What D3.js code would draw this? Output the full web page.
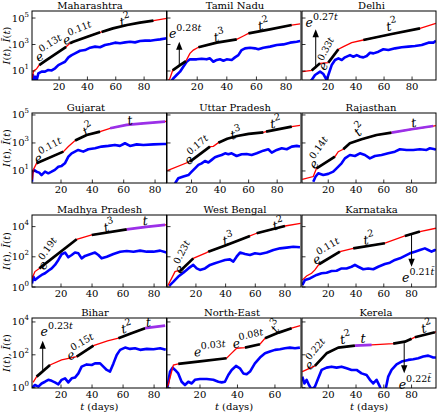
<!DOCTYPE html>
<html><head><meta charset="utf-8">
<script src="https://cdn.jsdelivr.net/npm/d3@7"></script>
<style>body{margin:0;background:#fff} svg{display:block} text{font-family:"DejaVu Serif",serif;fill:#000}</style>
</head><body><svg id="c" width="440" height="414"></svg>
<script>
// ---------------- data ----------------
const titles = ["Maharashtra","Tamil Nadu","Delhi","Gujarat","Uttar Pradesh","Rajasthan","Madhya Pradesh","West Bengal","Karnataka","Bihar","North-East","Kerela"];

const mhDays=[1,2,4,6,10,15,20,25,27.7,30,35,40,45,49,50,58,68,77,86.6,96];
const mhI=[2.8,10,14,28,56,129,295,676,1230,1600,2500,3900,6000,8300,8900,16600,29500,44700,63000,93000];
const mhBarDays=[1.2,1.6,2.3,3.3,4.2,5.4,7.7,10.1,12.4,14.8,17.2,19.5,21.9,24.2,26.6,28.9,31.3,34.8,38.3,41.9,45.4,48.9,52.4,56,59.5,63,66.6,70.1,73.6,77.1,80.7,84.2,87.7,91.3,96];
const mhIbar=[1.2,5,1.6,3.7,2.1,6.6,8.9,8.9,12,11,16,28,38,50,107,158,214,339,380,575,692,617,912,1100,1380,1230,1450,1620,1450,1820,1950,1950,2190,2450,2950];

const tnDays=[0,1.6,3.4,7.9,12.4,15.1,17.4,20.8,33.2,46.7,51.2,54.6,69.1,83.8,89.5];
const tnI=[1.6,2.8,11,25,56,214,380,617,1380,2450,4370,6900,13800,29500,35500];
const tnBarDays=[1.6,3.9,6.1,8.4,10.6,12.9,15.1,17.4,19.6,23,26.4,28.6,30.9,33.2,35.4,37.7,39.9,43.3,45.5,47.8,50,52.3,55.7,59,61.3,64.7,69.2,73.7,78.2,82.7,87.2,89.5];
const tnIbar=[1.2,2.8,5,8.9,21,50,76,76,76,85,76,91,50,68,76,60,76,68,107,158,380,513,575,513,437,575,692,912,1020,1380,1620,1820];

const dlDays=[1.7,8.3,14.3,20.2,27.4,31,36.9,45.2,65.5,85.7,97];
const dlI=[8.9,11,38,43,437,692,1380,2190,6200,16600,40000];
const dlBarDays=[6,8.3,10.7,14.3,16.7,19,20.2,22.6,25,27.4,29.8,32.1,35.7,38.1,40.5,42.9,45.2,47.6,50,52.4,56,59.5,63.1,67.9,72.6,77.4,82.1,86.9,91.7,95.2,97];
const dlIbar=[1.2,2.1,5,8.9,5.9,2.1,5,28,68,91,68,107,158,120,158,120,107,135,240,214,288,437,380,513,617,692,776,912,1380,1380,1950];

const gjDays=[1.7,2.3,4.4,21.5,24.7,29,36.4,44.9,51.3,61.9,72.5,86.4,87.3];
const gjI=[2.3,12,35,240,550,1480,3700,6500,11200,19500,25100,33100,37000];
const gjBarDays=[1.5,1.7,2.7,4.4,6.1,7.6,9.8,11.9,14,16.1,18.3,20.4,22.5,24.7,26.8,28.9,31,34.2,37.4,41.7,45.9,50.2,54.4,57.6,60.8,64,68.3,72.5,78.9,85.3,87.3];
const gjIbar=[1.7,6.8,12,8.9,7.6,5.1,8.9,6.8,8.9,12,20,23,35,105,182,240,316,240,355,417,550,617,724,617,955,617,794,724,794,851,851];

const upDays=[3,18.9,32.9,35.3,38.8,45,52,60,70.3,72.2,90.2,96];
const upI=[10.5,47,550,575,1050,2000,3160,4470,5750,6460,14800,18200];
const upBarDays=[8.4,10.7,14.3,17.8,20.1,22.4,24.8,27.1,29.4,31.8,34.1,36.4,38.8,41.1,43.5,45.8,48.1,51.6,55.1,58.6,62.1,65.7,70.3,73.8,76.2,79.7,83.2,86.7,90.2,93.7,96];
const upIbar=[1.3,3,4,5.1,8.9,15.5,27,35,51,40,62,95,117,138,182,155,182,117,155,162,138,182,282,355,204,316,417,355,550,617,550];

const rjDays=[1.3,9.2,11.6,24.8,27.2,30.8,35.6,44,54.8,65.6,80,95.6,97.5];
const rjI=[2.5,4,15.5,105,240,355,955,1820,3700,5500,9550,16200,17400];
const rjBarDays=[9.2,10.9,12.8,16.4,20,23.6,26,29.6,32,35.6,39.2,42.8,46.4,50,53.6,58.4,63.2,68,71.6,76.4,81.2,86,90.8,93.2,96.8,97.5];
const rjIbar=[1.7,4,6.8,5.1,6.2,8.9,15.5,35,79,138,117,182,138,79,117,138,182,240,355,316,316,355,316,417,355,316];

const mpDays=[1.3,3.2,6,30.1,39.8,62.4,75,87.1,88];
const mpI=[3.7,10.5,17,1450,2800,6600,9550,12900,13000];
const mpBarDays=[1.3,2.2,3.2,5.4,7.5,9.7,11.8,14,16.1,18.3,20.4,22.6,24.7,26.9,29,31.2,33.3,35.5,38.7,41.9,44.1,46.2,49.5,53.8,58.1,62.4,66.7,71,75.3,79.6,83.9,88];
const mpIbar=[1.7,4.9,2.9,4.4,6.3,8.1,12,17,29,62,148,191,93,132,191,170,79,115,148,191,132,79,102,155,219,245,219,257,219,219,257,191];

const wbDays=[1,3.6,5.9,8.1,9.2,18.2,27.2,28.3,40.7,56.4,60.9,80,90.5];
const wbI=[1.2,3.7,10.5,12,11,79,191,219,600,2400,3630,11000,16600];
const wbBarDays=[2,4.7,8.1,11.5,14.9,18.2,20.5,22.7,26.1,29.5,32.8,36.2,39.6,42.9,45.2,47.4,49.7,53.1,56.4,59.8,63.2,67.7,72.2,76.7,81.1,85.6,90.1];
const wbIbar=[1.2,2.2,4.9,8.9,17,29,17,13.5,17,29,37,48,62,68,48,102,191,155,132,170,155,191,282,363,407,468,427];

const kaDays=[1.3,4.4,8,10.4,13.3,28.4,38,60.8,75.2,86,97.5];
const kaI=[2.9,5.4,8.1,13.5,32,219,363,794,2400,4700,7800];
const kaBarDays=[1.3,3.2,6.8,9.2,11.6,15.2,18.8,22.4,26,29.6,33.2,36.8,39.2,41.6,45.2,48.8,52.4,56,60.8,64.4,68,71.6,75.2,78.8,82.4,86,89.6,92,94.4,96.8,97.5];
const kaIbar=[1.35,2.9,3.7,4.9,6.3,8.1,8.9,11.5,12,17,17,22,29,22,15,17,15,22,33,41,62,79,115,170,219,282,363,282,219,282,257];

const brDays=[2,4.3,12.9,20.4,30.1,40.9,50,57,65,74.2,87.1];
const brI=[2.1,4.7,24,49,78,363,708,1020,2000,4170,6030];
const brBarDays=[1.3,3.2,5.4,7.5,9.7,11.8,14,16.1,18.3,20.4,22.6,24.7,26.9,29,31.2,33.3,36.6,39.8,41.9,45.2,47.3,49.5,51.6,53.8,55.9,58.1,61.3,64.5,67.7,71,75.3,79.6,83.9,87.5];
const brIbar=[1,1.45,1.15,1.8,2.3,3,2.6,2.1,1.6,3,3.7,2.1,3.7,4.1,7.4,19,26,24,30,30,19,12,9.5,30,98,200,275,229,251,200,229,219,251,200];

const neDays=[2.5,3.1,5.8,8.4,20,34.2,36.9,39.6,44,52,54.7,62,68.9,73.5];
const neI=[1.15,1.6,24,28,40,62,126,251,275,437,1020,2240,4170,6030];
const neBarDays=[2.6,4,5.4,6.7,8.4,10.2,12,13.8,15.6,17.3,20,23.6,27.1,29.8,31.6,33.3,35.1,36.9,39.2,41.3,43.1,44.9,46.7,49.3,52,54.7,57.3,60,62.7,65.3,68,70.7,73.3];
const neIbar=[1,9.5,16.6,12,7.4,2.3,1.45,2.3,1.8,3,3.4,3.4,3,2.3,2.1,2.3,5.9,12,21,15,7.4,6.5,9.5,30,68,123,158,200,219,251,275,251,275];

const klDays=[1.3,10.4,18.8,27.2,39.2,51.2,66.8,75.2,80,82.4,96.8,97.5];
const klI=[9.5,21,123,275,363,398,479,631,933,1175,2340,2570];
const klBarDays=[1.3,2.8,4.4,6.1,8,10.4,12.8,15.2,18.8,22.4,26,29.6,33.2,36.8,40.4,44,47.6,50,52.4,54.8,57.2,58.9,60.8,63.2,65.6,69.2,72.8,77.6,81.2,84.8,88.4,92,95.6,97.5];
const klIbar=[4.7,1.8,3,1.45,0.8,1.15,3.7,12,16.6,19,16.6,19,15,12,12,7.4,5.9,3,1.8,3,1.15,0.5,0.5,4.7,12,26,39,49,54,62,78,89,68,68];

// fitted ranges (days) drawn black / purple on I(t)
const blackRanges=[
 [[6,25],[27.7,49],[50,86.6]],
 [[3.4,12.4],[20.8,46.7],[54.6,83.8]],
 [[8.3,14.3],[20.2,27.4],[45.2,85.7]],
 [[4.4,21.5],[29,44.9]],
 [[18.9,32.9],[38.8,70.3],[72.2,90.2]],
 [[11.6,24.8],[30.8,65.6]],
 [[6,30.1],[39.8,62.4]],
 [[9.2,18.2],[28.3,56.4],[60.9,80]],
 [[13.3,28.4],[38,60.8],[75.2,86]],
 [[4.3,12.9],[30.1,40.9],[57,74.2]],
 [[8.4,34.2],[44,52],[54.7,68.9]],
 [[10.4,39.2],[66.8,80],[82.4,96.8]]
];
const purpleRanges=[[],[],[],[[51.3,86.4]],[],[[65.6,95.6]],[[62.4,87.1]],[],[],[[74.2,87.1]],[],[[39.2,51.2]]];

// annotations: [day, value, base, exponent, angle]
const notes=[
 [[13.6,380,"e","0.13t",-32],[33.4,5200,"e","0.11t",-22],[66.6,59000,"t","2",-15]],
 [[11.8,7000,"e","0.28t",0],[34.9,3900,"t","3",-12],[64.7,29500,"t","2",-12]],
 [[15.5,45000,"e","0.27t",0],[20.7,162,"e","0.33t",-62],[65.5,26300,"t","2",-12]],
 [[12.5,204,"e","0.11t",-28],[37.4,8500,"t","2",-30],[64,42000,"t","",-10]],
 [[24.7,240,"e","0.17t",-40],[51.2,4370,"t","3",-15],[79,25700,"t","2",-10]],
 [[14.8,162,"e","0.14t",-55],[42.8,8500,"t","2",-45],[81.5,28200,"t","",-10]],
 [[12.9,132,"e","0.19t",-55],[51,10000,"t","3",-15],[74.2,25100,"t","",-5]],
 [[12.6,81,"e","0.23t",-62],[41.8,1320,"t","3",-15],[75.5,12900,"t","2",-15]],
 [[19.3,178,"e","0.11t",-30],[49.3,1410,"t","2",-10],[84.8,4.3,"e","0.21t\u0304",0]],
 [[17.2,2570,"e","0.23t",0],[33.3,229,"e","0.15t",-30],[62.4,4170,"t","2",-15],[76.3,9770,"t","",-5]],
 [[25.3,174,"e","0.03t",-5],[45.8,708,"e","0.08t",-12],[60.9,5250,"t","3",-55]],
 [[12.1,89,"e","0.22t",-50],[32.5,933,"t","2",-12],[45,1020,"t","",0],[90.9,4570,"t","2",-15],[82.4,1.5,"e","0.22t\u0304",0]]
];
// arrows: [day, from value, to value]
const arrows=[[],[[7.9,21,1620]],[[11.2,16,14100]],[],[],[],[],[],[[80,2800,22]],[[8.2,12,708]],[],[[74.7,513,7.6]]];

const xDomains=[[0.9,95.8],[-0.4,90.1],[1.4,97.1],[1.5,87.3],[2.8,96.7],[1.1,97.6],[1.3,88],[0.5,90.8],[1.1,97.6],[1.3,88],[2.4,73.9],[1.1,97.6]];
const xTicks=[20,40,60,80];
const xTicksNE=[20,40,60];
const yTicksRows=[[10,1e3,1e5],[10,1e3,1e5],[1,1e2,1e4],[1,1e2,1e4]];

// ---------------- layout ----------------
const colLeft=[32,167,302], colRight=[166.5,301,436];
const rowTop=[11,113,215,318], rowBottom=[80,183,287,388];
const rowLog=[[0.32,5.53],[0.14,5.14],[0,4.77],[-0.02,4.24]];
const titleX=[90,235,371.5,86,235,371,99.5,235,371.5,95,232,376];

const series=[
 [mhDays,mhI,mhBarDays,mhIbar],[tnDays,tnI,tnBarDays,tnIbar],[dlDays,dlI,dlBarDays,dlIbar],
 [gjDays,gjI,gjBarDays,gjIbar],[upDays,upI,upBarDays,upIbar],[rjDays,rjI,rjBarDays,rjIbar],
 [mpDays,mpI,mpBarDays,mpIbar],[wbDays,wbI,wbBarDays,wbIbar],[kaDays,kaI,kaBarDays,kaIbar],
 [brDays,brI,brBarDays,brIbar],[neDays,neI,neBarDays,neIbar],[klDays,klI,klBarDays,klIbar]
];

const svg=d3.select("#c");
const defs=svg.append("defs");

function supText(sel,base,exp,size,supSize){
  sel.append("tspan").attr("font-style","italic").text(base);
  if(exp){
    const m=exp.match(/^([\d.]*)(.*)$/);
    if(m[1]) sel.append("tspan").attr("dy",-size*0.55).attr("font-size",supSize).text(m[1]);
    if(m[2]){
      const s2=sel.append("tspan").attr("font-size",supSize).attr("font-style","italic").text(m[2]);
      if(!m[1]) s2.attr("dy",-size*0.55);
    }
  }
}

series.forEach((s,i)=>{
  const r=Math.floor(i/3), c=i%3;
  const x=d3.scaleLinear().domain(xDomains[i]).range([colLeft[c],colRight[c]]);
  const y=d3.scaleLog().domain(rowLog[r].map(e=>Math.pow(10,e))).range([rowBottom[r],rowTop[r]]);
  const g=svg.append("g");
  const cid="clip"+i;
  defs.append("clipPath").attr("id",cid).append("rect")
    .attr("x",colLeft[c]).attr("y",rowTop[r]).attr("width",colRight[c]-colLeft[c]).attr("height",rowBottom[r]-rowTop[r]);
  const pg=g.append("g").attr("clip-path",`url(#${cid})`);
  const line=d3.line().x(d=>x(d[0])).y(d=>y(d[1]));
  const red=d3.zip(s[0],s[1]);
  const blue=d3.zip(s[2],s[3]);
  pg.append("path").attr("d",line(blue)).attr("fill","none").attr("stroke","#0000ff").attr("stroke-width",2.6).attr("stroke-linejoin","round");
  pg.append("path").attr("d",line(red)).attr("fill","none").attr("stroke","#ff0000").attr("stroke-width",1.3);
  const seg=(ranges,col)=>ranges.forEach(([a,b])=>{
    const pts=red.filter(d=>d[0]>=a-1e-9&&d[0]<=b+1e-9);
    pg.append("path").attr("d",line(pts)).attr("fill","none").attr("stroke",col).attr("stroke-width",2.7).attr("stroke-linejoin","round");
  });
  seg(blackRanges[i],"#000");
  seg(purpleRanges[i],"#9b30e8");

  // arrows
  arrows[i].forEach(([t,v0,v1])=>{
    const ax=x(t), y0=y(v0), y1=y(v1), dir=y1<y0?-1:1;
    g.append("line").attr("x1",ax).attr("x2",ax).attr("y1",y0).attr("y2",y1-dir*7).attr("stroke","#000").attr("stroke-width",1);
    g.append("path").attr("d",`M${ax},${y1} L${ax-3.2},${y1-dir*8} L${ax+3.2},${y1-dir*8} Z`).attr("fill","#000");
  });

  // annotations
  notes[i].forEach(([t,v,base,exp,ang])=>{
    const tx=g.append("text").attr("transform",`translate(${x(t)},${y(v)}) rotate(${ang})`)
      .attr("text-anchor","middle").attr("dy","0.35em").attr("font-size",12.5);
    supText(tx,base,exp,12.5,9.5);
  });

  // frame
  g.append("rect").attr("x",colLeft[c]).attr("y",rowTop[r]).attr("width",colRight[c]-colLeft[c]).attr("height",rowBottom[r]-rowTop[r])
    .attr("fill","none").attr("stroke","#000").attr("stroke-width",1);

  // x ticks
  const xt=(i===10)?xTicksNE:xTicks;
  xt.forEach(v=>{
    g.append("line").attr("x1",x(v)).attr("x2",x(v)).attr("y1",rowBottom[r]).attr("y2",rowBottom[r]-3.5).attr("stroke","#000").attr("stroke-width",0.8);
    g.append("text").attr("x",x(v)).attr("y",rowBottom[r]+9.5).attr("text-anchor","middle").attr("font-size",10).text(v);
  });
  // y ticks
  yTicksRows[r].forEach(v=>{
    g.append("line").attr("x1",colLeft[c]).attr("x2",colLeft[c]+3.5).attr("y1",y(v)).attr("y2",y(v)).attr("stroke","#000").attr("stroke-width",0.8);
    if(c===0){
      const tx=g.append("text").attr("x",colLeft[c]-3).attr("y",y(v)+3.5).attr("text-anchor","end").attr("font-size",10);
      tx.append("tspan").text("10");
      tx.append("tspan").attr("dy",-5).attr("font-size",7).text(Math.round(Math.log10(v)));
    }
  });
  // title
  g.append("text").attr("x",titleX[i]).attr("y",rowTop[r]-2.5).attr("text-anchor","middle").attr("font-size",10).text(titles[i]);

  // axis labels
  if(c===0){
    const yl=g.append("text").attr("transform",`translate(10,${(rowTop[r]+rowBottom[r])/2}) rotate(-90)`).attr("text-anchor","middle").attr("font-size",10);
    yl.append("tspan").attr("font-style","italic").text("I");
    yl.append("tspan").text("(");
    yl.append("tspan").attr("font-style","italic").text("t");
    yl.append("tspan").text("), ");
    yl.append("tspan").attr("font-style","italic").text("\u012A");
    yl.append("tspan").text("(");
    yl.append("tspan").attr("font-style","italic").text("t");
    yl.append("tspan").text(")");
  }
  if(r===3){
    const xl=g.append("text").attr("x",(colLeft[c]+colRight[c])/2).attr("y",410).attr("text-anchor","middle").attr("font-size",10);
    xl.append("tspan").attr("font-style","italic").text("t");
    xl.append("tspan").text(" (days)");
  }
});
</script></body></html>
